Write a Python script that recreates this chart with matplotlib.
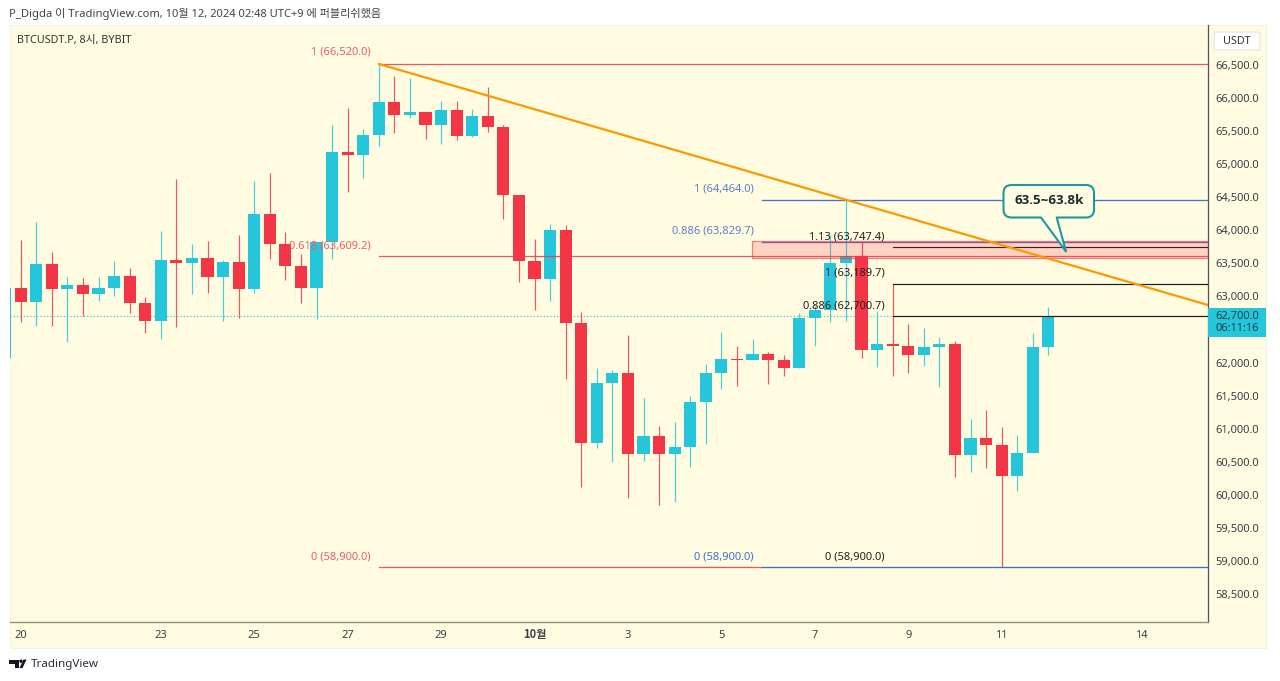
#!/usr/bin/env python3
# -*- coding: utf-8 -*-
import numpy as np
import matplotlib
matplotlib.use('Agg')
import matplotlib.pyplot as plt
from matplotlib.colors import to_rgba
from matplotlib.patches import Circle, PathPatch, Polygon, Rectangle, FancyBboxPatch
from matplotlib.path import Path
from matplotlib.transforms import ScaledTranslation

plt.rcParams['font.family'] = ['Noto Sans', 'Noto Sans CJK KR', 'DejaVu Sans']

opens = [62070, 63124, 62917, 63487, 63118, 63174, 63038, 63133, 63310, 62897, 62625, 63548, 63512, 63583, 63300, 63522,
         63118, 64244, 63799, 63462, 63124, 63818, 65192, 65142, 65445, 65949, 65743, 65789, 65592, 65819, 65434, 65733,
         65562, 64541, 63533, 63265, 64011, 62594, 60782, 61695, 61837, 60615, 60888, 60610, 60726, 61407, 61846, 62058,
         62039, 62134, 62034, 61917, 62675, 62796, 63503, 63613, 62190, 62281, 62246, 62114, 62240, 62281, 60600, 60862,
         60756, 60287, 60635, 62231]
closes = [63130, 62917, 63487, 63118, 63174, 63038, 63129, 63310, 62897, 62625, 63548, 63512, 63583, 63300, 63522, 63118,
          64244, 63799, 63462, 63124, 63818, 65192, 65142, 65445, 65949, 65743, 65789, 65592, 65819, 65434, 65733, 65562,
          64541, 63533, 63265, 64011, 62594, 60782, 61695, 61837, 60615, 60888, 60610, 60726, 61407, 61846, 62058, 62039,
          62134, 62034, 61917, 62679, 62796, 63503, 63613, 62190, 62281, 62246, 62114, 62240, 62281, 60600, 60862, 60756,
          60287, 60635, 62231, 62700]
highs = [63130, 63855, 64132, 63678, 63300, 63275, 63291, 63542, 63427, 62988, 63996, 64774, 63795, 63845, 63553, 63931,
         64744, 64874, 63981, 63643, 63830, 65596, 65849, 65531, 66520, 66338, 66313, 65800, 65964, 65964, 65839, 66176,
         65601, 64541, 63866, 64098, 64087, 62761, 61913, 61887, 62417, 61459, 61044, 61095, 61494, 61978, 62462, 62251,
         62361, 62155, 62114, 62755, 62856, 63931, 64464, 63830, 62785, 63185, 62584, 62519, 62382, 62326, 61141, 61282,
         61024, 60898, 62452, 62846]
lows = [62070, 62618, 62558, 62553, 62307, 62705, 62936, 63012, 62755, 62443, 62352, 62534, 63038, 63057, 62634, 62670,
        63057, 63563, 63250, 62897, 62655, 63563, 64587, 64789, 65279, 65480, 65698, 65389, 65313, 65369, 65410, 65486,
        64169, 63224, 62796, 62932, 61746, 60120, 60711, 60499, 59954, 60505, 59843, 59893, 60414, 60762, 61604, 61650,
        62039, 61680, 61801, 61917, 62255, 62618, 62634, 62064, 61937, 61801, 61837, 61948, 61625, 60263, 60348, 60408,
        58900, 60060, 60635, 62110]

# 62,500 sits under the last price badge, so it is not labelled
price_ticks = [p for p in range(58500, 67000, 500) if p != 62500]
date_pos = [0, 9, 15, 21, 27, 33, 39, 45, 51, 57, 63, 72]
date_labels = ['20', '23', '25', '27', '29', '10월', '3', '5', '7', '9', '11', '14']

RED = '#F23645'
TEAL = '#26C6DA'
BG = '#FFFCE1'
W, H = 1280, 681


def fig_rect(x0, y0, x1, y1):
    # pixel box (top-left origin) to figure fractions
    return [x0 / W, 1 - y1 / H, (x1 - x0) / W, (y1 - y0) / H]


fig = plt.figure(figsize=(12.8, 6.81), dpi=100, facecolor='white')

# pale pane behind everything, includes price and time scales
over = fig.add_axes([0, 0, 1, 1], zorder=0)
over.set_xlim(0, W)
over.set_ylim(H, 0)
over.axis('off')
over.add_patch(Rectangle((9.5, 25), 1256.5, 623, fc=BG, ec='#F2F0E0', lw=0.6))

ax = fig.add_axes(fig_rect(10, 25, 1208, 621.5), zorder=1)
ax.patch.set_alpha(0)
ax.set_xlim(-0.687, 76.25)
ax.set_ylim(58080, 67110)

x = np.arange(-1, len(opens) - 1)
o = np.array(opens)
c = np.array(closes)
colors = np.where(c >= o, TEAL, RED)

ax.vlines(x, lows, highs, colors=list(colors), lw=0.85, zorder=2, alpha=0.85)
ax.bar(x, np.abs(c - o), bottom=np.minimum(o, c), width=0.78, color=list(colors), zorder=3, linewidth=0)

# last price line
ax.axhline(closes[-1], color=TEAL, lw=0.8, ls=(0, (1, 2)), zorder=1)

# fib levels from three anchors
i_red, i_blue, i_black = 23, 47.6, 56
i_end = 76.25
for lvl, stop in [(66520.0, i_end), (63609.2, i_end), (58900.0, i_blue)]:
    ax.plot([i_red, stop], [lvl, lvl], color=RED, lw=0.9, alpha=0.85, zorder=4)
for lvl, col in [(64464.0, '#4A72C8'), (63829.7, '#6A5FC0'), (58900.0, '#3F6FD0')]:
    ax.plot([i_blue, i_end], [lvl, lvl], color=col, lw=0.95, zorder=4)
for lvl in [63747.4, 63189.7, 62700.7]:
    ax.plot([i_black, i_end], [lvl, lvl], color='#1a1a1a', lw=0.85, zorder=4)

# supply zone
ax.add_patch(Rectangle((46.97, 63580), i_end - 46.97, 63840 - 63580, fc=to_rgba(RED, 0.2),
                       ec=to_rgba(RED, 0.6), lw=0.9, zorder=4))

# trend line
ax.plot([23, i_end], [66520, 62871], color='#FF9800', lw=1.6, zorder=5, solid_capstyle='round')

fib_labels = [
    (i_red - 0.5, 66695, '1 (66,520.0)', '#E8606A'),
    (i_red - 0.5, 63770, '0.618 (63,609.2)', '#E8606A'),
    (i_red - 0.5, 59060, '0 (58,900.0)', '#E8606A'),
    (i_blue - 0.5, 64625, '1 (64,464.0)', '#5B7FD0'),
    (i_blue - 0.5, 63990, '0.886 (63,829.7)', '#5B7FD0'),
    (i_blue - 0.5, 59060, '0 (58,900.0)', '#3F6FD0'),
    (i_black - 0.5, 63908, '1.13 (63,747.4)', '#222222'),
    (i_black - 0.5, 63350, '1 (63,189.7)', '#222222'),
    (i_black - 0.5, 62861, '0.886 (62,700.7)', '#222222'),
    (i_black - 0.5, 59060, '0 (58,900.0)', '#222222'),
]
for xp, yp, txt, col in fib_labels:
    ax.text(xp, yp, txt, color=col, fontsize=8, ha='right', va='center', zorder=6)

ax.yaxis.tick_right()
ax.set_yticks(price_ticks)
ax.set_yticklabels([f'{p:,.1f}' for p in price_ticks], fontsize=8, color='#3a3f4a')
ax.tick_params(axis='y', length=0, pad=5.5)
ax.set_xticks(date_pos)
ax.set_xticklabels(date_labels, fontsize=8, color='#3a3f4a')
ax.tick_params(axis='x', length=0, pad=6)
# month label is bold and its CJK font sits lower than the digits
month = ax.get_xticklabels()[5]
month.set_fontweight('bold')
month.set_family(['Noto Sans CJK KR', 'DejaVu Sans'])
month.set_transform(month.get_transform() + ScaledTranslation(0, 2 / 100, fig.dpi_scale_trans))
for s in ['top', 'left']:
    ax.spines[s].set_visible(False)
ax.spines['right'].set_color('#50535E')
ax.spines['right'].set_linewidth(0.9)
ax.spines['bottom'].set_color('#8F9080')
ax.spines['bottom'].set_linewidth(1.0)

# top layer: header, callout, scale badges, logo
top = fig.add_axes([0, 0, 1, 1], zorder=2)
top.set_xlim(0, W)
top.set_ylim(H, 0)
top.axis('off')
top.patch.set_alpha(0)

top.text(9, 14, 'P_Digda 이 TradingView.com, 10월 12, 2024 02:48 UTC+9 에 퍼블리쉬했음',
         fontsize=8.05, color='#444444', va='center', ha='left')
top.text(17, 40, 'BTCUSDT.P, 8시, BYBIT', fontsize=7.8, color='#333333', va='center', ha='left')

top.add_patch(FancyBboxPatch((1214, 32), 46, 18, boxstyle='round,pad=0,rounding_size=2',
                             fc='white', ec='#E4E4E0', lw=0.8))
top.text(1237, 41, 'USDT', fontsize=7.8, color='#333333', ha='center', va='center')

top.add_patch(Rectangle((1208, 308), 58, 29, fc=TEAL, ec='none'))
top.text(1237, 322.5, '62,700.0\n06:11:16', fontsize=8, color='#0F3F4A', ha='center', va='center', linespacing=1.05)

# callout shape with pointer
x0, y0, x1, y1, r = 1003.5, 185, 1094, 217.5, 8
verts = [(x0 + r, y0), (x1 - r, y0), (x1, y0), (x1, y0 + r), (x1, y1 - r), (x1, y1), (x1 - r, y1),
         (1056.7, y1), (1066, 251.5), (1041, y1),
         (x0 + r, y1), (x0, y1), (x0, y1 - r), (x0, y0 + r), (x0, y0), (x0 + r, y0)]
codes = [Path.MOVETO, Path.LINETO, Path.CURVE3, Path.CURVE3, Path.LINETO, Path.CURVE3, Path.CURVE3,
         Path.LINETO, Path.LINETO, Path.LINETO,
         Path.LINETO, Path.CURVE3, Path.CURVE3, Path.LINETO, Path.CURVE3, Path.CURVE3]
top.add_patch(PathPatch(Path(verts, codes), fc=BG, ec='#1E97A5', lw=1.5, joinstyle='round'))
top.text(1048.7, 201, '63.5~63.8k', fontsize=9.6, fontweight='bold', family=['Open Sans', 'DejaVu Sans'],
         color='#1b2a33', ha='center', va='center')

# TradingView mark
top.add_patch(Polygon([(9, 659.5), (19, 659.5), (19, 668), (14.5, 668), (14.5, 663.5), (9, 663.5)], fc='#131722', ec='none'))
top.add_patch(Circle((21, 661.2), 1.7, fc='#131722', ec='none'))
top.add_patch(Polygon([(26.5, 659.5), (22.5, 668), (19.5, 668), (23.5, 659.5)], fc='#131722', ec='none'))
top.text(31, 664, 'TradingView', fontsize=8.4, color='#2a2e39', va='center', ha='left')

plt.savefig('out.png', dpi=100)
